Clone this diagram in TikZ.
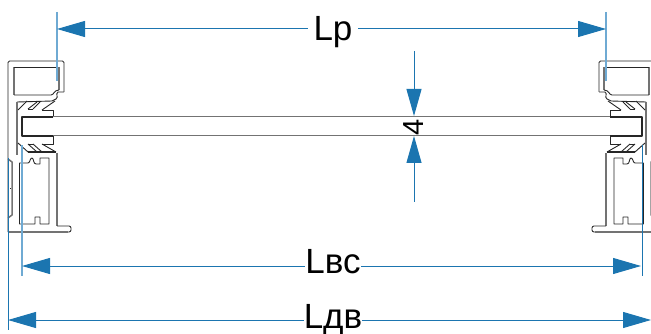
\documentclass[tikz,border=0pt]{standalone}
\usepackage{fontspec}
\setmainfont{Liberation Sans}
\usetikzlibrary{arrows.meta, positioning}
\definecolor{dimblue}{HTML}{1B75B0}
\definecolor{extblue}{HTML}{6FAAD3}
\tikzset{
	prof/.style={draw=black!85, line width=0.9pt, line join=round},
	profgrey/.style={draw=black!55, line width=1.5pt, line join=round},
	dimline/.style={dimblue, line width=1pt, {Triangle[length=28pt,width=16pt]}-{Triangle[length=28pt,width=16pt]}},
	arrowin/.style={dimblue, line width=1pt, -{Triangle[length=27pt,width=15pt]}},
	extline/.style={extblue, line width=1.2pt},
	dimlabel/.style={font=\fontsize{35}{37}\selectfont, fill=white, inner ysep=0pt, anchor=base},
	profile/.pic={
		% outer skin
		\draw[prof, rounded corners=1.5pt] (64,92) -- (64,61) -- (8,61) -- (8,232);
		\draw[prof] (64,92) -- (58,92) .. controls (55,94) and (59,97) .. (56,99) -- (52,101) -- (17,102);
		\draw[profgrey] (14,95) -- (14,67);
		\draw[prof] (14,67) -- (59,67);
		\draw[profgrey] (59,67) -- (59,90);
		\draw[prof] (59,90) .. controls (54,90) and (54,95) .. (51,95) -- (14,95);
		% wall
		\draw[profgrey] (17,102) -- (17,155);
		% top seal
		\draw[prof] (18,110) -- (27,101) (28,109) -- (37,102) (33,109) -- (40,102) (42,110) -- (55,101);
		\draw[prof] (28,109) -- (33,109);
		\draw[prof] (42,110) -- (53,110) -- (53,116);
		% lower seal
		\draw[prof] (53,136) -- (53,144) -- (42,144);
		\draw[prof] (18,143) -- (28,152) (28,144) -- (37,152) (33,144) -- (42,152) (42,144) -- (56,152);
		\draw[prof] (28,144) -- (33,144);
		\draw[prof, line width=1.2pt] (28,152) -- (56,152);
		% lower box
		\draw[prof] (19.5,224) -- (19.5,163) -- (28,163) .. controls (30,163) and (30,158) .. (32,158)
			.. controls (34,158) and (33,164) .. (36,164) -- (40,164) -- (40,158) -- (49,158) -- (49,224)
			-- (40,224) -- (40,217) -- (35,217) -- (35,224) -- cycle;
		\draw[profgrey] (57,153) -- (57,226);
		% flange
		\draw[prof, rounded corners=2pt] (57,226) -- (71,226) -- (71,232) -- (68,232);
		\draw[profgrey] (68,232) -- (8,232);
		% side strip
		\draw[profgrey] (8,159) -- (12,162) -- (12,215) -- (8,218);
		\draw[prof] (10,188) -- (11,188);
	}
}
\begin{document}
\begin{tikzpicture}[x=1pt, y=-1pt]
	\useasboundingbox (0,0) rectangle (651,334);
	
	% Profiles
	\pic at (0,0) {profile};
	\pic[shift={(663,0)}, xscale=-1] at (0,0) {profile};
	
	% Glass
	\draw[profgrey, line width=1pt] (22,117) -- (642,117) (22,136) -- (642,136);
	\draw[prof, line width=1.5pt] (53,117) -- (22,117) -- (22,136) -- (53,136);
	\draw[prof, line width=1.5pt] (610,117) -- (642,117) -- (642,136) -- (610,136);
	
	% Coordinates
	\coordinate (LpA) at (57,29);
	\coordinate (LpB) at (606,29);
	\coordinate (LvsA) at (22,266);
	\coordinate (LvsB) at (641,266);
	\coordinate (LdvA) at (8,320);
	\coordinate (LdvB) at (651,320);
	\coordinate (GlassT) at (414,116);
	\coordinate (GlassB) at (414,136);
	\coordinate (ThickT) at (414,51);
	\coordinate (ThickB) at (414,202);
	
	% Extension lines
	\coordinate (LpAe) at (57,12);
	\coordinate (LpAf) at (57,81);
	\coordinate (LpBe) at (606,12);
	\coordinate (LpBf) at (606,81);
	\coordinate (LvsAe) at (22,145);
	\coordinate (LvsAf) at (22,276);
	\coordinate (LvsBe) at (642,145);
	\coordinate (LvsBf) at (642,276);
	\coordinate (LdvAe) at (8,158);
	\coordinate (LdvAf) at (8,330);
	\draw[extline] (LpAe) -- (LpAf);
	\draw[extline] (LpBe) -- (LpBf);
	\draw[extline] (LvsAe) -- (LvsAf);
	\draw[dimblue, line width=1pt] (LvsBe) -- (LvsBf);
	\draw[dimblue, line width=1pt] (LdvAe) -- (LdvAf);
	
	% Arrows
	\draw[dimline] (LpA) -- (LpB);
	\draw[dimline] (LvsA) -- (LvsB);
	\draw[dimline] (LdvA) -- (LdvB);
	\draw[arrowin] (ThickT) -- (GlassT);
	\draw[arrowin] (ThickB) -- (GlassB);
	
	% Labels
	\node[dimlabel, inner xsep=6pt] (LpLabel) at (333,41) {Lp};
	\node[dimlabel, inner xsep=0pt] (LvsLabel) at (333,273) {Lвс};
	\node[dimlabel, inner xsep=0pt] (LdvLabel) at (333,328) {Lдв};
	\node[font=\fontsize{29}{31}\selectfont, rotate=90, inner sep=0pt] (ThickLabel) at (414,127) {4};
	
\end{tikzpicture}
\end{document}
